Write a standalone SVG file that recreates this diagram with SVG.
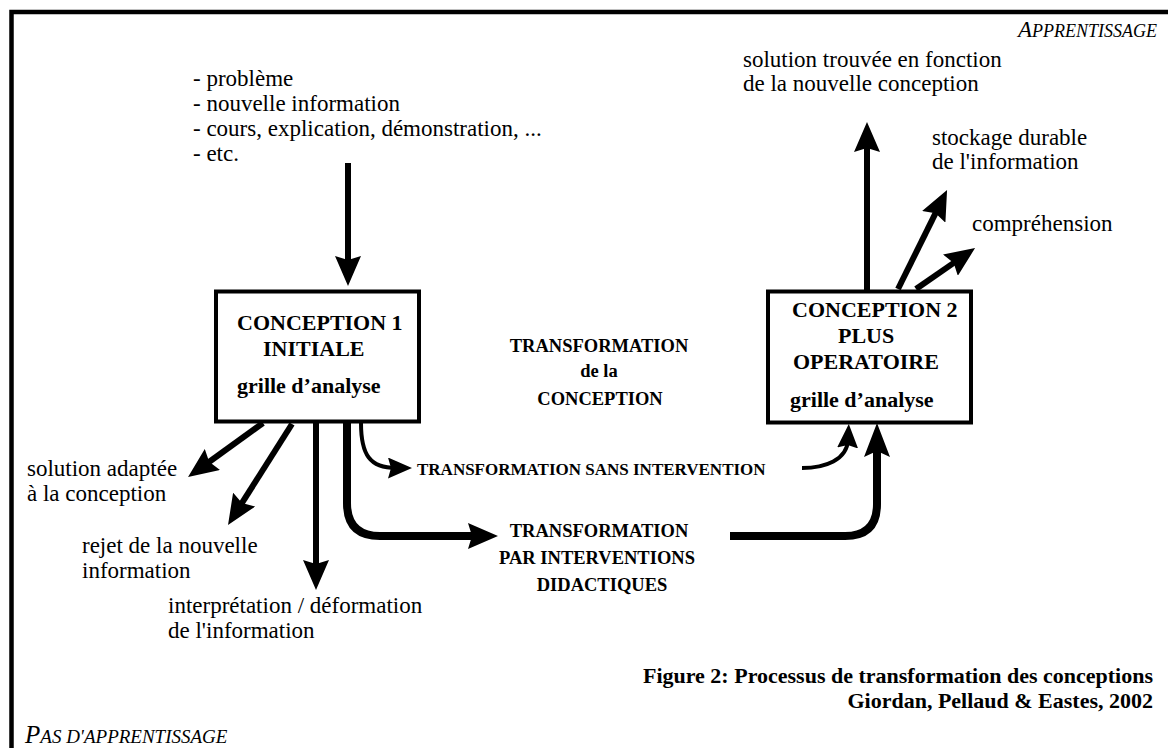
<svg xmlns="http://www.w3.org/2000/svg" width="1168" height="748" viewBox="0 0 1168 748">
<style>
text{font-family:"Liberation Serif","Times New Roman",serif;fill:#000}
.r{font-size:23px}
.b{font-size:22px;font-weight:bold}
.m{font-size:18.5px;font-weight:bold}
.s{font-size:17px;font-weight:bold}
.i{font-style:italic}
.box{fill:#fff;stroke:#000;stroke-width:4}
.c{fill:none;stroke:#000;stroke-linecap:butt}
.w6{stroke-width:6}
.w8{stroke-width:8}
.w4{stroke-width:4}
</style>
<defs>
<marker id="ah" markerUnits="userSpaceOnUse" viewBox="0 0 30 26" markerWidth="30" markerHeight="26" refX="8" refY="13" orient="auto">
<path d="M0,0 L30,13 L0,26 L4,13 z" fill="#000"/>
</marker>
<marker id="as" markerUnits="userSpaceOnUse" viewBox="0 0 24 21" markerWidth="24" markerHeight="21" refX="8" refY="10.5" orient="auto">
<path d="M0,0 L24,10.5 L0,21 L3,10.5 z" fill="#000"/>
</marker>
</defs>
<rect width="1168" height="748" fill="#fff"/>
<g id="frame">
<path d="M11.5,748 L11.5,12 L1168,12" fill="none" stroke="#000" stroke-width="4.5"/>
</g>
<g id="corner-labels">
<text x="1157" y="37" text-anchor="end" class="i"><tspan font-size="23">A</tspan><tspan font-size="18">PPRENTISSAGE</tspan></text>
<text x="25" y="743" class="i"><tspan font-size="25">P</tspan><tspan font-size="19">AS D'APPRENTISSAGE</tspan></text>
</g>
<g id="connectors">
<path class="c w6" d="M348,163 L348,264" marker-end="url(#ah)"/>
<path class="c w6" d="M263,423 L205.9,464.2" marker-end="url(#ah)"/>
<path class="c w6" d="M292,424 L239.8,506.4" marker-end="url(#ah)"/>
<path class="c w6" d="M316,423 L316,568" marker-end="url(#ah)"/>
<path class="c w4" d="M361,423 C361,455 370,468 396,468" marker-end="url(#as)"/>
<path class="c w8" d="M347,423 L347,503 Q347,536 380,536 L476,536" marker-end="url(#ah)"/>
<path class="c w8" d="M730,536 L845,536 Q877,536 877,504 L877,445"/>
<path class="c w4" d="M802,468 C825,468 847,460 848,440" marker-end="url(#as)"/>
<path class="c w6" d="M867,290 L867,144" marker-end="url(#ah)"/>
<path class="c w6" d="M898,289 L937.3,209.7" marker-end="url(#ah)"/>
<path class="c w6" d="M916,289 L957,260.6" marker-end="url(#ah)"/>
<path d="M864,457 L877,423 L890,457 L877,451 z" fill="#000"/>
</g>
<g id="conception1">
<rect class="box" x="216" y="291.5" width="203" height="130"/>
<text x="237" y="330" class="b">CONCEPTION 1</text>
<text x="263" y="356" class="b">INITIALE</text>
<text x="237" y="393" class="b">grille d’analyse</text>
</g>
<g id="conception2">
<rect class="box" x="768" y="291.5" width="203" height="131"/>
<text x="792" y="317" class="b">CONCEPTION 2</text>
<text x="838" y="343" class="b">PLUS</text>
<text x="793" y="369" class="b">OPERATOIRE</text>
<text x="790" y="407" class="b">grille d’analyse</text>
</g>
<g id="inputs">
<text x="193" y="86" class="r">- problème</text>
<text x="193" y="111" class="r">- nouvelle information</text>
<text x="193" y="136" class="r">- cours, explication, démonstration, ...</text>
<text x="193" y="161" class="r">- etc.</text>
</g>
<g id="transformation-label">
<text x="599" y="352" text-anchor="middle" class="m">TRANSFORMATION</text>
<text x="599" y="377" text-anchor="middle" class="m">de la</text>
<text x="600" y="405" text-anchor="middle" class="m">CONCEPTION</text>
</g>
<g id="sans-intervention">
<text x="417" y="475" class="s">TRANSFORMATION SANS INTERVENTION</text>
</g>
<g id="interventions">
<text x="599" y="537" text-anchor="middle" class="m">TRANSFORMATION</text>
<text x="597" y="564" text-anchor="middle" class="m">PAR INTERVENTIONS</text>
<text x="602" y="591" text-anchor="middle" class="m">DIDACTIQUES</text>
</g>
<g id="out-solution-adaptee">
<text x="27" y="476" class="r">solution adaptée</text>
<text x="27" y="501" class="r">à la conception</text>
</g>
<g id="out-rejet">
<text x="82" y="553" class="r">rejet de la nouvelle</text>
<text x="82" y="578" class="r">information</text>
</g>
<g id="out-interpretation">
<text x="168" y="613" class="r">interprétation / déformation</text>
<text x="168" y="638" class="r">de l'information</text>
</g>
<g id="out-solution-trouvee">
<text x="743" y="67" class="r">solution trouvée en fonction</text>
<text x="743" y="91" class="r">de la nouvelle conception</text>
</g>
<g id="out-stockage">
<text x="932" y="145" class="r">stockage durable</text>
<text x="932" y="169" class="r">de l'information</text>
</g>
<g id="out-comprehension">
<text x="972" y="231" class="r">compréhension</text>
</g>
<g id="caption">
<text x="1153" y="683" text-anchor="end" class="b">Figure 2: Processus de transformation des conceptions</text>
<text x="1153" y="708" text-anchor="end" class="b">Giordan, Pellaud &amp; Eastes, 2002</text>
</g>
</svg>
